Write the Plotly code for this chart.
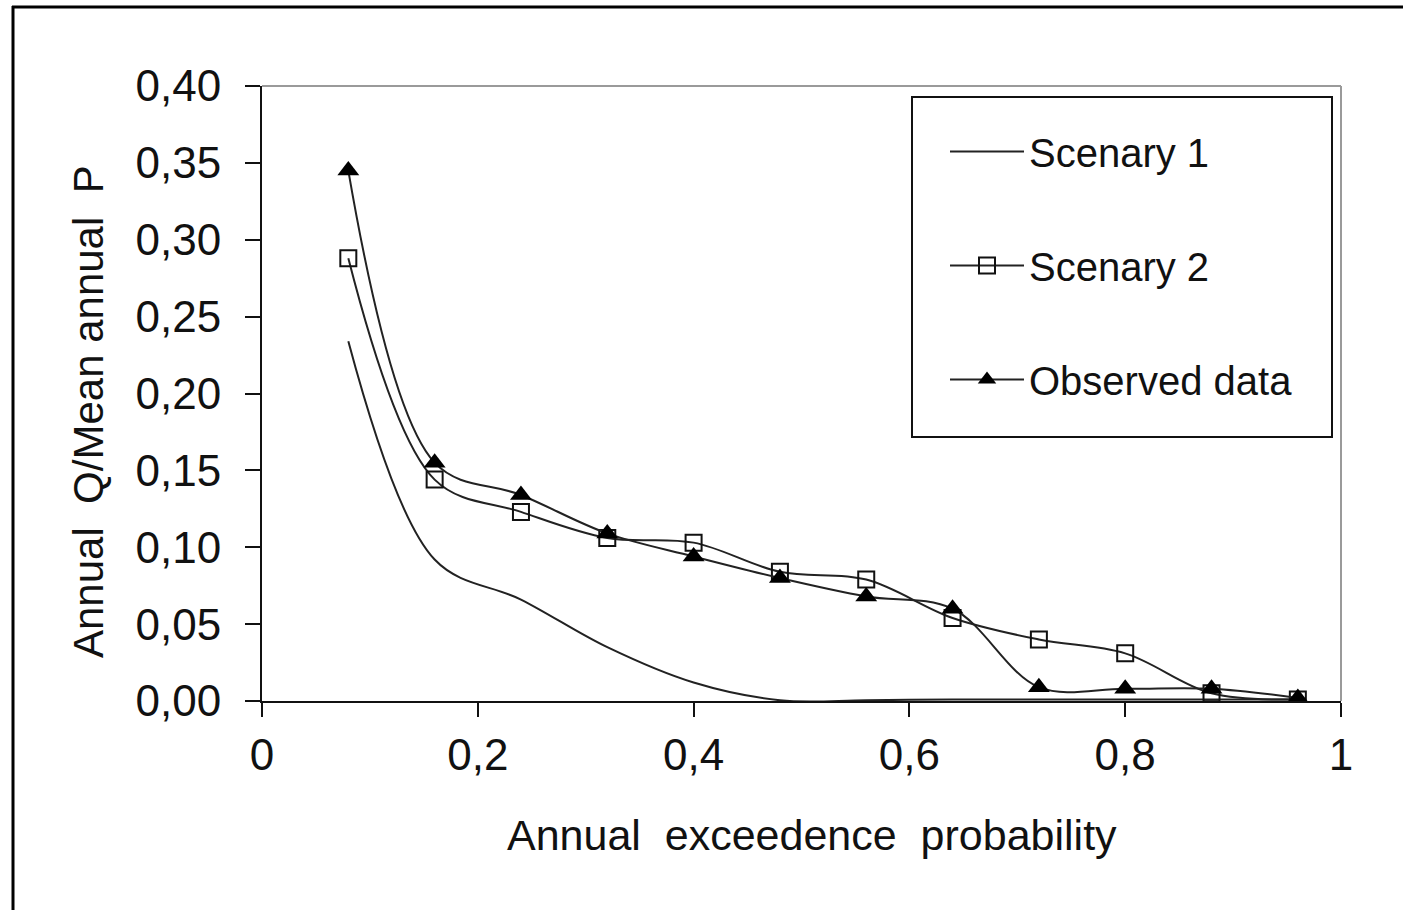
import plotly.graph_objects as go

prob = [0.08, 0.16, 0.24, 0.32, 0.40, 0.48, 0.56, 0.64, 0.72, 0.80, 0.88, 0.96]
scenary1 = [0.234, 0.092, 0.066, 0.035, 0.012, 0.0005, 0.0005, 0.001, 0.001, 0.001, 0.001, 0.001]
scenary2 = [0.288, 0.144, 0.123, 0.106, 0.103, 0.084, 0.079, 0.054, 0.040, 0.031, 0.005, 0.001]
observed = [0.345, 0.155, 0.134, 0.109, 0.094, 0.080, 0.068, 0.060, 0.009, 0.008, 0.008, 0.002]

y_ticks = [0, 0.05, 0.10, 0.15, 0.20, 0.25, 0.30, 0.35, 0.40]
x_ticks = [0, 0.2, 0.4, 0.6, 0.8, 1.0]

x_title = "Annual\u00a0\u00a0exceedence\u00a0\u00a0probability"
y_title = "Annual\u00a0\u00a0Q/Mean annual\u00a0\u00a0P"

FONT = "Liberation Sans, Arial, sans-serif"
INK = "#111111"

fig = go.Figure()
fig.add_trace(go.Scatter(
    x=prob, y=scenary1, name="Scenary 1", mode="lines",
    line=dict(color="#222222", width=2, shape="spline", smoothing=1.0),
    legendgroup="a"))
fig.add_trace(go.Scatter(
    x=prob, y=scenary2, name="Scenary 2", mode="lines+markers",
    line=dict(color="#222222", width=2, shape="spline", smoothing=1.0),
    marker=dict(symbol="square-open", size=16, color="#111111", line=dict(width=2)),
    legendgroup="b"))
fig.add_trace(go.Scatter(
    x=prob, y=observed, name="Observed data", mode="lines+markers",
    line=dict(color="#222222", width=2, shape="spline", smoothing=1.0),
    marker=dict(symbol="triangle-up", size=19, color="#000000"),
    legendgroup="c"))

W, H = 1403, 910
L, R, T, B = 262, 1341, 86, 701
PW, PH = R - L, B - T


def px_x(p):
    return (p - L) / PW


def px_y(p):
    return (B - p) / PH


fig.update_layout(
    width=W, height=H,
    margin=dict(l=L, r=W - R, t=T, b=H - B),
    paper_bgcolor="white", plot_bgcolor="white",
    font=dict(family=FONT, size=44, color=INK),
    separators=", ",
    showlegend=True,
    legend=dict(
        x=px_x(945), y=px_y(119),
        xanchor="left", yanchor="top",
        borderwidth=0, bgcolor="rgba(0,0,0,0)",
        font=dict(family=FONT, size=40, color=INK),
        traceorder="grouped", tracegroupgap=59, itemwidth=74,
    ),
    xaxis=dict(
        range=[0, 1], tickvals=x_ticks, tickformat="",
        showgrid=False, zeroline=False,
        showline=True, linecolor="#111111", linewidth=2,
        ticks="outside", ticklen=14, tickwidth=2, tickcolor="#111111",
        tickfont=dict(size=44),
    ),
    yaxis=dict(
        range=[0, 0.4], tickvals=y_ticks, tickformat=".2f",
        showgrid=False, zeroline=False,
        showline=True, linecolor="#111111", linewidth=2,
        ticks="outside", ticklen=15, tickwidth=2, tickcolor="#111111",
        tickfont=dict(size=44), ticklabelstandoff=15,
    ),
    annotations=[
        dict(text=x_title, xref="paper", yref="paper", x=px_x(812), y=px_y(835),
             xanchor="center", yanchor="middle", showarrow=False,
             font=dict(family=FONT, size=43, color=INK)),
        dict(text=y_title, xref="paper", yref="paper", x=px_x(89), y=px_y(412),
             xanchor="center", yanchor="middle", showarrow=False, textangle=-90,
             font=dict(family=FONT, size=42, color=INK)),
    ],
    shapes=[
        # legend box
        dict(type="rect", xref="paper", yref="paper",
             x0=px_x(912), x1=px_x(1332), y0=px_y(437), y1=px_y(97),
             line=dict(color="#111111", width=2), fillcolor="rgba(0,0,0,0)", layer="above"),
        # gray top/right plot frame
        dict(type="line", xref="paper", yref="paper", x0=0, x1=1, y0=1, y1=1,
             line=dict(color="#9a9a9a", width=2)),
        dict(type="line", xref="paper", yref="paper", x0=1, x1=1, y0=0, y1=1,
             line=dict(color="#9a9a9a", width=2)),
        # outer picture frame (top and left)
        dict(type="line", xref="paper", yref="paper",
             x0=px_x(12), x1=px_x(1403), y0=px_y(7), y1=px_y(7),
             line=dict(color="#000000", width=3)),
        dict(type="line", xref="paper", yref="paper",
             x0=px_x(13), x1=px_x(13), y0=px_y(6), y1=px_y(910),
             line=dict(color="#000000", width=3)),
    ],
)

fig.write_html("out.html")
